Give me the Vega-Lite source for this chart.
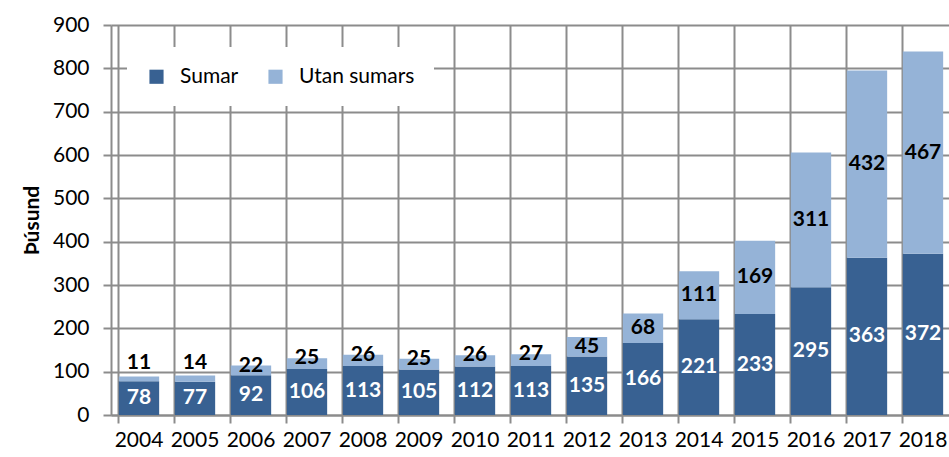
{
  "$schema": "https://vega.github.io/schema/vega-lite/v6.json",
  "width": 840,
  "height": 390,
  "autosize": "none",
  "padding": {"left": 111, "top": 25, "right": 0, "bottom": 42},
  "background": "white",
  "config": {
    "view": {"stroke": null},
    "font": "Lato",
    "axis": {
      "domainColor": "#8c8c8c",
      "domainWidth": 2,
      "gridColor": "#8c8c8c",
      "gridWidth": 2,
      "gridOpacity": 1,
      "tickColor": "#8c8c8c",
      "tickWidth": 2,
      "tickSize": 8,
      "labelColor": "#000000",
      "labelFont": "Lato",
      "labelFontSize": 21,
      "titleColor": "#000000"
    }
  },
  "data": {
    "values": [
      {"year": "2004", "series": "Sumar", "order": 1, "value": 78},
      {"year": "2005", "series": "Sumar", "order": 1, "value": 77},
      {"year": "2006", "series": "Sumar", "order": 1, "value": 92},
      {"year": "2007", "series": "Sumar", "order": 1, "value": 106},
      {"year": "2008", "series": "Sumar", "order": 1, "value": 113},
      {"year": "2009", "series": "Sumar", "order": 1, "value": 105},
      {"year": "2010", "series": "Sumar", "order": 1, "value": 112},
      {"year": "2011", "series": "Sumar", "order": 1, "value": 113},
      {"year": "2012", "series": "Sumar", "order": 1, "value": 135},
      {"year": "2013", "series": "Sumar", "order": 1, "value": 166},
      {"year": "2014", "series": "Sumar", "order": 1, "value": 221},
      {"year": "2015", "series": "Sumar", "order": 1, "value": 233},
      {"year": "2016", "series": "Sumar", "order": 1, "value": 295},
      {"year": "2017", "series": "Sumar", "order": 1, "value": 363},
      {"year": "2018", "series": "Sumar", "order": 1, "value": 372},
      {"year": "2004", "series": "Utan sumars", "order": 2, "value": 11},
      {"year": "2005", "series": "Utan sumars", "order": 2, "value": 14},
      {"year": "2006", "series": "Utan sumars", "order": 2, "value": 22},
      {"year": "2007", "series": "Utan sumars", "order": 2, "value": 25},
      {"year": "2008", "series": "Utan sumars", "order": 2, "value": 26},
      {"year": "2009", "series": "Utan sumars", "order": 2, "value": 25},
      {"year": "2010", "series": "Utan sumars", "order": 2, "value": 26},
      {"year": "2011", "series": "Utan sumars", "order": 2, "value": 27},
      {"year": "2012", "series": "Utan sumars", "order": 2, "value": 45},
      {"year": "2013", "series": "Utan sumars", "order": 2, "value": 68},
      {"year": "2014", "series": "Utan sumars", "order": 2, "value": 111},
      {"year": "2015", "series": "Utan sumars", "order": 2, "value": 169},
      {"year": "2016", "series": "Utan sumars", "order": 2, "value": 311},
      {"year": "2017", "series": "Utan sumars", "order": 2, "value": 432},
      {"year": "2018", "series": "Utan sumars", "order": 2, "value": 467}
    ]
  },
  "transform": [
    {"stack": "value", "groupby": ["year"], "sort": [{"field": "order", "order": "ascending"}], "as": ["v0", "v1"]},
    {"calculate": "(datum.v0 + datum.v1) / 2", "as": "mid"}
  ],
  "encoding": {
    "x": {
      "field": "year",
      "type": "nominal",
      "scale": {"paddingInner": 0.28, "paddingOuter": 0.14},
      "axis": {
        "title": null,
        "labelAngle": 0,
        "bandPosition": 0,
        "grid": true,
        "labelPadding": 6,
        "labelBaseline": "top"
      }
    }
  },
  "layer": [
    {
      "mark": {"type": "bar"},
      "encoding": {
        "y": {
          "field": "v1",
          "type": "quantitative",
          "scale": {"domain": [0, 900], "nice": false},
          "axis": {
            "values": [0, 100, 200, 300, 400, 500, 600, 700, 800, 900],
            "title": "Þúsund",
            "titleFontSize": 21,
            "titleFontWeight": "bold",
            "titlePadding": 10,
            "labelPadding": 14,
            "grid": true
          }
        },
        "y2": {"field": "v0"},
        "color": {
          "field": "series",
          "type": "nominal",
          "scale": {"domain": ["Sumar", "Utan sumars"], "range": ["#386192", "#95B3D7"]},
          "legend": {
            "title": null,
            "orient": "none",
            "legendX": 16,
            "legendY": 22,
            "direction": "horizontal",
            "fillColor": "white",
            "padding": 19,
            "symbolType": "square",
            "symbolSize": 200,
            "symbolStrokeWidth": 0,
            "symbolOpacity": 1,
            "labelFontSize": 21,
            "labelFont": "Lato",
            "labelColor": "#000000",
            "labelOffset": 13,
            "columnPadding": 26
          }
        }
      }
    },
    {
      "transform": [{"filter": "datum.series === 'Sumar'"}],
      "mark": {"type": "text", "color": "white", "fontWeight": "bold", "fontSize": 21, "baseline": "middle", "font": "Lato"},
      "encoding": {
        "y": {"field": "mid", "type": "quantitative"},
        "text": {"field": "value", "type": "quantitative"}
      }
    },
    {
      "transform": [{"filter": "datum.series === 'Utan sumars' && datum.value >= 40"}],
      "mark": {"type": "text", "color": "black", "fontWeight": "bold", "fontSize": 21, "baseline": "middle", "font": "Lato"},
      "encoding": {
        "y": {"field": "mid", "type": "quantitative"},
        "text": {"field": "value", "type": "quantitative"}
      }
    },
    {
      "transform": [{"filter": "datum.series === 'Utan sumars' && datum.value >= 20 && datum.value < 40"}],
      "mark": {"type": "text", "color": "black", "fontWeight": "bold", "fontSize": 21, "baseline": "middle", "font": "Lato"},
      "encoding": {
        "y": {"field": "v1", "type": "quantitative"},
        "text": {"field": "value", "type": "quantitative"}
      }
    },
    {
      "transform": [{"filter": "datum.series === 'Utan sumars' && datum.value < 20"}],
      "mark": {"type": "text", "color": "black", "fontWeight": "bold", "fontSize": 21, "baseline": "middle", "dy": -13, "font": "Lato"},
      "encoding": {
        "y": {"field": "v1", "type": "quantitative"},
        "text": {"field": "value", "type": "quantitative"}
      }
    }
  ]
}
